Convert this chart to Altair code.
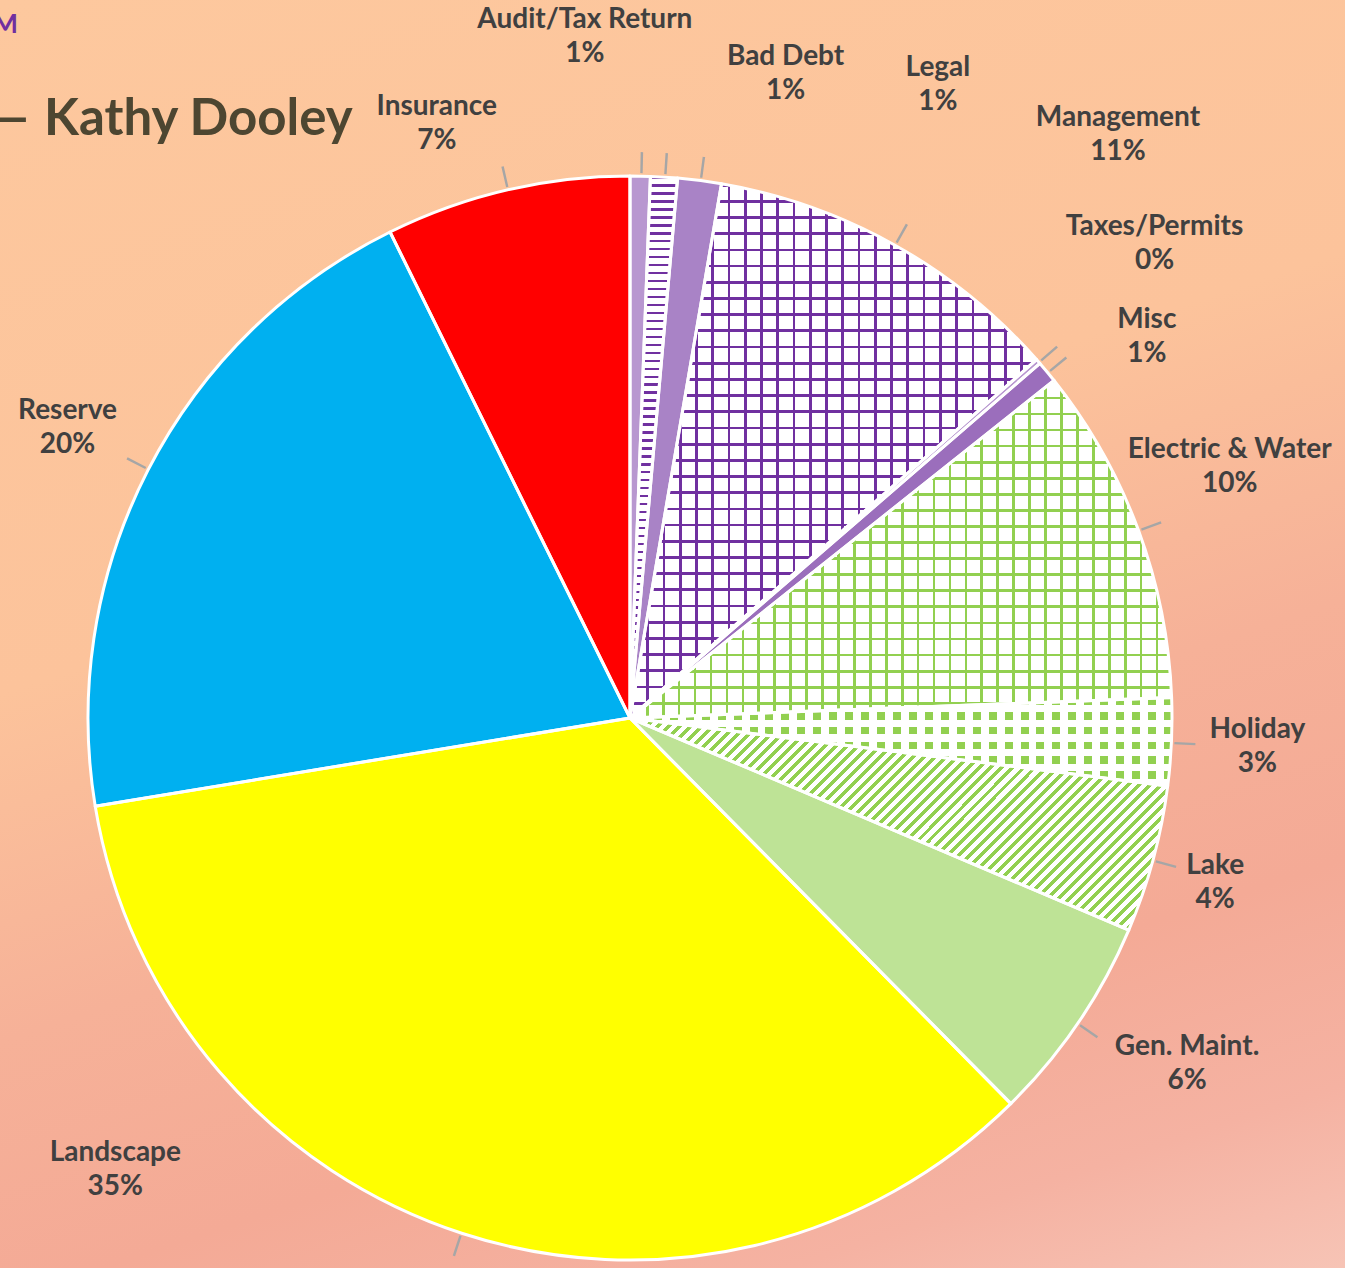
import altair as alt
import pandas as pd

# ---------------- data ----------------
names = ["Audit/Tax Return", "Bad Debt", "Legal", "Management", "Taxes/Permits", "Misc",
         "Electric & Water", "Holiday", "Lake", "Gen. Maint.", "Landscape", "Reserve", "Insurance"]
values = [0.6, 0.8, 1.3, 10.8, 0.15, 0.65, 10.1, 2.6, 4.4, 6.2, 34.8, 20.3, 7.3]

# ---------------- styles ----------------
PURPLE = "#7030A0"
GREEN = "#92D050"
base_fill = ["#B897D0", "#FFFFFF", "#A983C6", "#FFFFFF", "#B897D0", "#9B6EBC",
             "#FFFFFF", "#FFFFFF", "#FFFFFF", "#BEE396", "#FFFF00", "#00B0F0", "#FF0000"]
label_nudge = {
    "Audit/Tax Return": (-57, -51), "Bad Debt": (116, -15), "Legal": (227, -8),
    "Management": (181, -33), "Taxes/Permits": (50, -60), "Misc": (32, 21),
    "Electric & Water": (9, -32), "Holiday": (-2, 1), "Lake": (-23, 1),
    "Gen. Maint.": (36, -8), "Landscape": (-320, -147), "Reserve": (-2, -2),
    "Insurance": (-50, 20),
}
LINE_H = 34
W, H = 1345, 1268
CX, CY, R = 630, 718, 542
LABEL_R = 630
TRANSP = "rgba(255,255,255,0)"

total = sum(values)
df = pd.DataFrame({"name": names, "value": values, "order": list(range(len(names)))})


def stripe_grad(n, on_frac, color, x2, y2):
    stops = []
    for i in range(n):
        a = i / n
        b = (i + on_frac) / n
        stops += [alt.GradientStop(offset=a, color=color),
                  alt.GradientStop(offset=b, color=color),
                  alt.GradientStop(offset=b, color=TRANSP),
                  alt.GradientStop(offset=(i + 1) / n, color=TRANSP)]
    return alt.LinearGradient(gradient="linear", stops=stops, x1=0, y1=0, x2=x2, y2=y2)


def diag_grad(bw, bh, period, on_frac, color):
    L = bw + bh
    x2 = L * bw / (bw * bw + bh * bh)
    y2 = x2 * bh / bw
    n = int(round(L / period))
    return stripe_grad(n, on_frac, color, x2, y2)


theta_scale = alt.Scale(domain=[0, total])


def pie_base():
    return alt.Chart(df).transform_window(
        cum="sum(value)", sort=[alt.SortField("order", order="ascending")], frame=[None, 0]
    ).transform_calculate(
        start="datum.cum - datum.value",
        mid="datum.cum - datum.value / 2",
        mid2="datum.cum - datum.value / 2 + 0.07",
        label=f"datum.name + '\\n' + format(100 * datum.value / {total}, '.0f') + '%'",
    )


TH = alt.Theta("start:Q", scale=theta_scale, stack=False)
TH2 = alt.Theta2("cum:Q")
XC = alt.value(CX)
YC = alt.value(CY)

one = pd.DataFrame({"k": [0]})

# background gradient
bg_grad = alt.LinearGradient(
    gradient="linear", x1=0, y1=0, x2=0.426, y2=1.22,
    stops=[alt.GradientStop(offset=0, color="#FDC89E"),
           alt.GradientStop(offset=0.4, color="#FCC39B"),
           alt.GradientStop(offset=0.6, color="#F6B198"),
           alt.GradientStop(offset=0.75, color="#F4AA96"),
           alt.GradientStop(offset=0.88, color="#F5B2A2"),
           alt.GradientStop(offset=1, color="#F7C6B8")])
bg = alt.Chart(one).mark_rect(fill=bg_grad).encode(
    x=alt.value(0), x2=alt.value(W), y=alt.value(0), y2=alt.value(H))

base = pie_base().mark_arc(radius=R, strokeWidth=0).encode(
    theta=TH, theta2=TH2, x=XC, y=YC,
    fill=alt.Fill("name:N", scale=alt.Scale(domain=names, range=base_fill), legend=None))


def pattern(name, grad):
    return pie_base().transform_filter(alt.datum.name == name).mark_arc(
        radius=R, fill=grad, strokeWidth=0).encode(theta=TH, theta2=TH2, x=XC, y=YC)


patterns = [
    pattern("Management", stripe_grad(25, 0.17, PURPLE, 1, 0)),
    pattern("Management", stripe_grad(33, 0.17, PURPLE, 0, 1)),
    pattern("Electric & Water", stripe_grad(34, 0.17, GREEN, 1, 0)),
    pattern("Electric & Water", stripe_grad(21, 0.17, GREEN, 0, 1)),
    pattern("Bad Debt", stripe_grad(68, 0.3, PURPLE, 0, 1)),
    pattern("Lake", diag_grad(538, 212, 11, 0.45, GREEN)),
    # Holiday dots: green rows masked by white columns
    pattern("Holiday", stripe_grad(6, 0.5, GREEN, 0, 1)),
    pattern("Holiday", stripe_grad(34, 0.5, "#FFFFFF", 1, 0)),
]

outline = pie_base().mark_arc(radius=R, fill="white", fillOpacity=0, stroke="white",
                              strokeWidth=3, strokeJoin="round").encode(
    theta=TH, theta2=TH2, x=XC, y=YC)

leaders = pie_base().mark_arc(radius=566, radius2=545, color="#A6A6A6").encode(
    theta=alt.Theta("mid:Q", scale=theta_scale, stack=False), theta2=alt.Theta2("mid2:Q"),
    x=XC, y=YC)

labels = []
for nm in names:
    dx, dy = label_nudge[nm]
    labels.append(
        pie_base().transform_filter(alt.datum.name == nm).mark_text(
            radius=LABEL_R, dx=dx, dy=dy - LINE_H / 2, font="Lato", fontSize=28,
            fontWeight="bold", color="#404040", lineBreak="\n", lineHeight=LINE_H,
            align="center", baseline="middle"
        ).encode(theta=alt.Theta("mid:Q", scale=theta_scale, stack=False),
                 text=alt.Text("label:N"), x=XC, y=YC))

title_m = alt.Chart(one).mark_text(text="M", font="Lato", fontSize=27, fontWeight="bold",
                                   color=PURPLE, align="right", baseline="alphabetic").encode(
    x=alt.value(18), y=alt.value(33))
title_dash = alt.Chart(one).mark_text(text="\u2014", font="Lato", fontSize=51,
                                      fontWeight="bold", color="#4D4631", align="right",
                                      baseline="alphabetic").encode(
    x=alt.value(29), y=alt.value(135))
title_k = alt.Chart(one).mark_text(text="Kathy Dooley", font="Lato", fontSize=51,
                                   fontWeight="bold", color="#4D4631", align="left",
                                   baseline="alphabetic").encode(
    x=alt.value(44), y=alt.value(135))

chart = alt.layer(bg, base, *patterns, outline, leaders, *labels,
                  title_m, title_dash, title_k).properties(
    width=W, height=H, padding=0, autosize=alt.AutoSizeParams(type="none"),
    background="#FBC29C"
).configure_view(stroke=None)

chart.save("out.html", embed_options={"renderer": "svg", "actions": False})
